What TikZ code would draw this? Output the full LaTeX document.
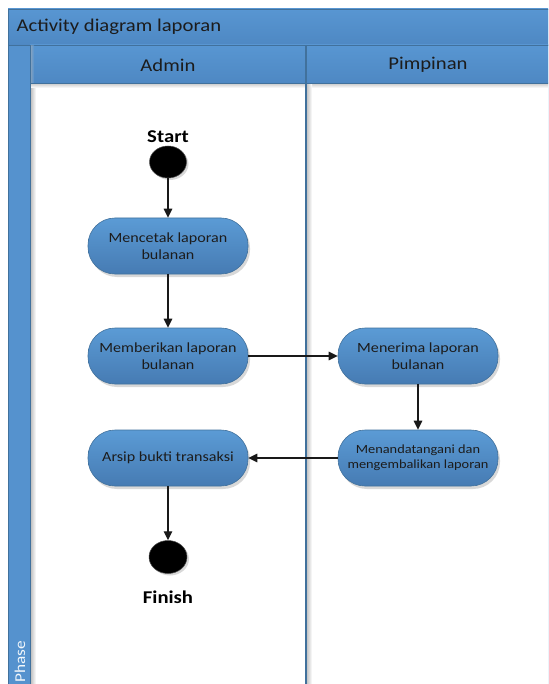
\documentclass[tikz,border=0pt]{standalone}
\usepackage{fontspec}
\setmainfont{Carlito}[FakeStretch=1.15]
\newfontfamily\captionserif{Liberation Serif}[FakeStretch=1.15]
\usetikzlibrary{arrows.meta,shadows,shapes.geometric}

\definecolor{laneblue}{HTML}{5896D2}
\definecolor{lanedark}{HTML}{4E88C3}
\definecolor{stripblue}{HTML}{5592CE}
\definecolor{edgeblue}{HTML}{41719C}
\definecolor{nodetop}{HTML}{5B9BD5}
\definecolor{nodebot}{HTML}{467BB3}
\definecolor{inktext}{HTML}{1C1C1C}

\tikzset{
  activity/.style={rectangle, rounded corners=27pt, minimum width=160pt,
    minimum height=56pt, draw=edgeblue, line width=0.6pt,
    top color=nodetop, bottom color=nodebot, text=inktext, align=center,
    font=\fontsize{14}{17.5}\selectfont,
    drop shadow={shadow xshift=2pt, shadow yshift=-3pt, opacity=0.3}},
  smallact/.style={activity, font=\fontsize{12.5}{15}\selectfont},
  terminal/.style={ellipse, minimum width=37pt, minimum height=32pt,
    inner sep=0pt, fill=black, draw=black!70, line width=0.5pt,
    drop shadow={shadow xshift=2pt, shadow yshift=-2pt, opacity=0.3}},
  termlabel/.style={font=\bfseries\fontsize{18}{18}\selectfont, text=black},
  flow/.style={line width=1.3pt, draw=black!90,
    -{Triangle[length=9pt,width=8.5pt]}},
  headercell/.style={draw=edgeblue, line width=0.6pt,
    top color=laneblue, bottom color=lanedark},
  headertext/.style={font=\fontsize{18}{18}\selectfont, text=inktext}
}

\begin{document}
\begin{tikzpicture}[x=1pt, y=-1pt]
  \useasboundingbox (0,0) rectangle (548,684);
  \clip (0,0) rectangle (548,684);
  \fill[white] (0,0) rectangle (548,684);

  % caption line above the frame, cut by the page edge
  \node[anchor=base west, inner sep=0pt, text=black,
        font=\captionserif\fontsize{22.6}{22.6}\selectfont]
        (caption) at (35,-5.5) {Activity diagram laporan};

  % swimlane frame
  \fill[stripblue] (8,9) rectangle (560,700);
  \fill[white] (30,83) rectangle (560,700);
  % soft shadows inside the lanes
  \shade[left color=black!28, right color=white] (30,83) rectangle (36,700);
  \shade[top color=black!22, bottom color=white] (30,83) rectangle (560,88);
  \shade[left color=black!22, right color=white] (307,83) rectangle (312,700);

  % title bar
  \path[headercell] (8,9) rectangle (560,45);
  \node[anchor=west, headertext] (title) at (13,27) {Activity diagram laporan};

  % lane headers
  \path[headercell] (30,45) rectangle (306,83);
  \path[headercell] (306,45) rectangle (560,83);
  \shade[left color=black!30, right color=laneblue, opacity=0.6] (30,45.4) rectangle (34,82.6);
  \node[headertext] (admin) at (168,65) {Admin};
  \node[headertext] (pimpinan) at (428,65) {Pimpinan};

  % phase strip and lane divider
  \draw[edgeblue, line width=0.6pt] (8,9) -- (8,700);
  \draw[edgeblue, line width=0.6pt] (30,45) -- (30,700);
  \draw[edgeblue, line width=1.2pt] (306,45) -- (306,700);
  \node[rotate=90, anchor=west, inner sep=0pt, text=white!92!laneblue,
        font=\fontsize{15}{15}\selectfont] (phase) at (20,683) {Phase};

  % activity nodes
  \node[termlabel] (startlbl) at (168,137) {Start};
  \node[terminal] (start) at (168,162) {};
  \node[activity] (cetak) at (168,246) {Mencetak laporan\\bulanan};
  \node[activity] (beri) at (168,356) {Memberikan laporan\\bulanan};
  \node[activity] (terima) at (418,356) {Menerima laporan\\bulanan};
  \node[smallact] (tanda) at (418,458) {Menandatangani dan\\mengembalikan laporan};
  \node[activity] (arsip) at (168,458) {Arsip bukti transaksi};
  \node[terminal, minimum width=38pt, minimum height=33pt] (finish) at (168,557) {};
  \node[termlabel] (finishlbl) at (168,597) {Finish};

  % control flow
  \draw[flow] (start) -- (cetak);
  \draw[flow] (cetak) -- (beri);
  \draw[flow] (beri.east) -- (terima.west);
  \draw[flow] (terima) -- (tanda);
  \draw[flow] (tanda.west) -- (arsip.east);
  \draw[flow] (arsip) -- (finish);
\end{tikzpicture}
\end{document}
